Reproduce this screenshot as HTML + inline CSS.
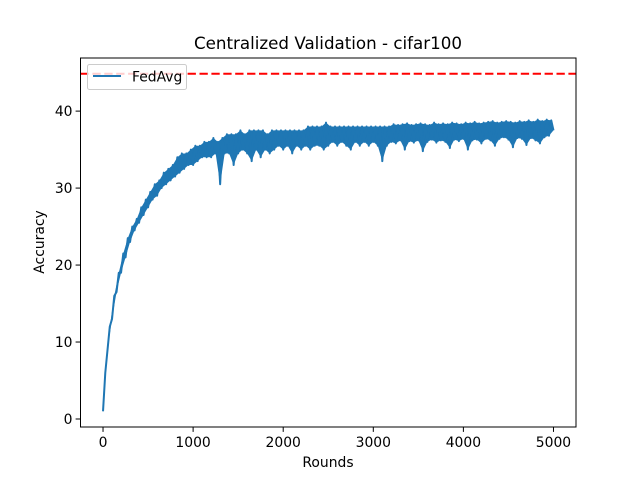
<!DOCTYPE html>
<html><head><meta charset="utf-8">
<style>
html,body{margin:0;padding:0;background:#fff;}
svg{display:block;font-family:"DejaVu Sans","Liberation Sans",sans-serif;}
</style></head>
<body>
<svg id="chart" width="640" height="480" viewBox="0 0 640 480">
<rect x="0" y="0" width="640" height="480" fill="#fff"/>
<text x="328" y="49" font-size="16.7" text-anchor="middle" fill="#000">Centralized Validation - cifar100</text>
<g id="plot"></g>
<g id="xticks"></g>
<g id="yticks"></g>
<text x="328" y="467" font-size="13.9" text-anchor="middle">Rounds</text>
<text x="0" y="0" font-size="13.9" text-anchor="middle" transform="translate(44,242) rotate(-90)">Accuracy</text>
<rect x="80.5" y="58" width="495.5" height="369" fill="none" stroke="#000" stroke-width="1"/>
<g>
<rect x="87.5" y="64.5" width="99" height="25" rx="2" fill="#fff" fill-opacity="0.8" stroke="#ccc"/>
<line x1="93" y1="76" x2="121" y2="76" stroke="#1f77b4" stroke-width="2"/>
<text x="132" y="81.5" font-size="13.9">FedAvg</text>
</g>
</svg>
<script>
const xTicks = [0, 1000, 2000, 3000, 4000, 5000];
const yTicks = [0, 10, 20, 30, 40];
const refLine = 44.85;
const step = 25;
const accuracy = [
1,6,9,12,13,16,16.5,19,19,21.5,21,23.5,23,25,24.5,26,25.5,27.5,26.5,28.5,
27.5,29.5,28.5,30.5,29,31,30,32,30.5,32.5,31,33,31.5,34,32,34.5,32.5,34.5,33,35,
33,35.5,33.5,35.5,34,36,34,36,34,36.5,34.5,36,30.5,36.5,34.5,37,34.5,37,33,37,
34.5,37.5,35,37,34.5,37.5,33.5,37.5,35,37.5,34,37.5,35,37,34.5,37.5,35,37.5,35.5,37.5,
35,37.5,35.5,37.5,34.5,37.5,35.5,37.5,35,37.5,35.5,38,35,38,35.5,38,35.5,38,35,38.5,
35.5,38,36,38,35.5,38,36,38,35.5,38,35,38,36,38,35.5,38,36,38,35.5,38,
36,38,35.5,38,33.5,38,35.5,38,36,38.3,35.8,38.2,36.2,38.3,35,38.4,36.1,38.2,35.9,38.3,
36.2,38.4,34.8,38.3,36,38.2,36.3,38.5,35.9,38.3,36.2,38.4,36,38.3,35.2,38.5,36.3,38.4,36.1,38.3,
36.4,38.5,35,38.4,36.2,38.6,36.3,38.4,35.8,38.5,36.4,38.6,36.2,38.7,35.5,38.5,36.4,38.6,36.6,38.7,
36.3,38.6,35.3,38.5,36.5,38.7,36.4,38.6,35.6,38.8,36.5,38.6,36.2,38.9,35.8,38.7,36.6,38.9,36.8,38.8,37.5
];

const X0 = 80.5, X1 = 576, Y0 = 58, Y1 = 427;
const xMin = -250, xMax = 5250, yMin = -1.04, yMax = 46.9;
const xs = v => X0 + (v - xMin) / (xMax - xMin) * (X1 - X0);
const ys = v => Y1 - (v - yMin) / (yMax - yMin) * (Y1 - Y0);
const NS = 'http://www.w3.org/2000/svg';
const plot = document.getElementById('plot');
const xg = document.getElementById('xticks');
const yg = document.getElementById('yticks');

const ref = document.createElementNS(NS, 'line');
ref.setAttribute('x1', X0); ref.setAttribute('x2', X1);
ref.setAttribute('y1', ys(refLine)); ref.setAttribute('y2', ys(refLine));
ref.setAttribute('stroke', 'red'); ref.setAttribute('stroke-width', '2');
ref.setAttribute('stroke-dasharray', '8.3,3.6');


plot.appendChild(ref);

// noise band: upper envelope through odd points, back along even points
const hi = [], lo = [];
accuracy.forEach((v, i) => { (i % 2 ? hi : lo).push([xs(i * step), ys(v)]); });
const bandPts = hi.concat(lo.slice().reverse()).map(p => p[0].toFixed(2) + ',' + p[1].toFixed(2)).join(' ');
const band = document.createElementNS(NS, 'polygon');
band.setAttribute('points', bandPts);
band.setAttribute('fill', '#1f77b4');


plot.appendChild(band);

let d = '';
accuracy.forEach((v, i) => { d += (i ? 'L' : 'M') + xs(i * step).toFixed(2) + ',' + ys(v).toFixed(2); });
const line = document.createElementNS(NS, 'path');
line.setAttribute('d', d);
line.setAttribute('fill', 'none');
line.setAttribute('stroke', '#1f77b4');
line.setAttribute('stroke-width', '2');
line.setAttribute('stroke-linejoin', 'round');


plot.appendChild(line);

xTicks.forEach(t => {
  const x = xs(t);
  const tk = document.createElementNS(NS, 'line');
  tk.setAttribute('x1', x); tk.setAttribute('x2', x);
  tk.setAttribute('y1', Y1); tk.setAttribute('y2', Y1 + 4.9);
  tk.setAttribute('stroke', '#000');
  
  
  xg.appendChild(tk);
  const tx = document.createElementNS(NS, 'text');
  tx.setAttribute('x', x); tx.setAttribute('y', Y1 + 20);
  tx.setAttribute('font-size', '13.9'); tx.setAttribute('text-anchor', 'middle');
  tx.textContent = t;
  
  
  xg.appendChild(tx);
});
yTicks.forEach(t => {
  const y = ys(t);
  const tk = document.createElementNS(NS, 'line');
  tk.setAttribute('x1', X0 - 4.9); tk.setAttribute('x2', X0);
  tk.setAttribute('y1', y); tk.setAttribute('y2', y);
  tk.setAttribute('stroke', '#000');
  
  
  yg.appendChild(tk);
  const tx = document.createElementNS(NS, 'text');
  tx.setAttribute('x', X0 - 8); tx.setAttribute('y', y + 5);
  tx.setAttribute('font-size', '13.9'); tx.setAttribute('text-anchor', 'end');
  tx.textContent = t;
  
  
  yg.appendChild(tx);
});
</script>
</body></html>
